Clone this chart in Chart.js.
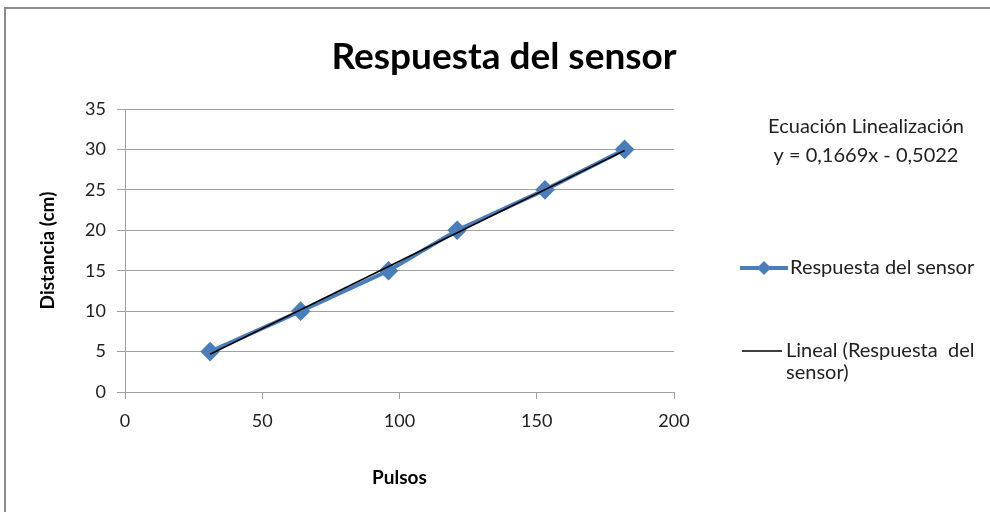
<!DOCTYPE html>
<html>
<head>
<meta charset="utf-8">
<script src="https://cdn.jsdelivr.net/npm/chart.js@4/dist/chart.umd.min.js"></script>
<style>
  html, body { margin: 0; padding: 0; background: #fff; }
  #wrap { width: 990px; height: 512px; }
</style>
</head>
<body>
<div id="wrap"><canvas id="chart" width="990" height="512"></canvas></div>
<script>
// datos
const pulsos = [31, 64, 96, 121, 153, 182];
const distancia = [5, 10, 15, 20, 25, 30];
// extremos de la linea de tendencia (lineal)
const trendX = [31, 182];
const trendY = [4.67, 29.87];
const xTicks = [0, 50, 100, 150, 200];
const yTicks = [0, 5, 10, 15, 20, 25, 30, 35];

const FONT = 'Lato, "Open Sans", sans-serif';
const BLUE = '#4a7ebb';

// marco, titulo, ecuacion y leyenda dibujados a mano
const extras = {
    id: 'extras',
    beforeDraw(chart) {
        const ctx = chart.ctx;
        ctx.save();
        ctx.fillStyle = '#fff';
        ctx.fillRect(0, 0, chart.width, chart.height);
        ctx.strokeStyle = '#8c8c8c';
        ctx.lineWidth = 2;
        ctx.strokeRect(5, 8, 1100, 700);
        ctx.restore();
    },
    afterDraw(chart) {
        const ctx = chart.ctx;
        ctx.save();
        ctx.fillStyle = '#000';
        ctx.textAlign = 'center';
        ctx.textBaseline = 'middle';
        ctx.font = 'bold 37px ' + FONT;
        ctx.fillText('Respuesta del sensor', 504, 57);

        ctx.font = '20px ' + FONT;
        ctx.fillStyle = '#222';
        ctx.fillText('Ecuación Linealización', 866, 127);
        ctx.fillText('y = 0,1669x - 0,5022', 866, 156);

        // leyenda
        const ds0 = chart.data.datasets[0];
        ctx.strokeStyle = ds0.borderColor;
        ctx.lineWidth = ds0.borderWidth;
        ctx.beginPath(); ctx.moveTo(740, 268); ctx.lineTo(788, 268); ctx.stroke();
        ctx.fillStyle = ds0.pointBackgroundColor;
        ctx.beginPath();
        ctx.moveTo(764, 261); ctx.lineTo(771, 268); ctx.lineTo(764, 275); ctx.lineTo(757, 268);
        ctx.closePath(); ctx.fill();

        const ds1 = chart.data.datasets[1];
        ctx.strokeStyle = ds1.borderColor;
        ctx.lineWidth = ds1.borderWidth;
        ctx.beginPath(); ctx.moveTo(742, 351); ctx.lineTo(782, 351); ctx.stroke();

        ctx.fillStyle = '#222';
        ctx.textAlign = 'left';
        ctx.fillText(ds0.label, 790, 268);
        ctx.fillText('Lineal (Respuesta  del', 786, 351);
        ctx.fillText('sensor)', 786, 373);
        ctx.restore();
    }
};

new Chart(document.getElementById('chart'), {
    type: 'scatter',
    data: {
        datasets: [
            {
                label: 'Respuesta del sensor',
                data: pulsos.map((x, i) => ({x, y: distancia[i]})),
                showLine: true,
                borderColor: BLUE,
                borderWidth: 4,
                pointStyle: 'rectRot',
                pointRadius: 7,
                pointBackgroundColor: BLUE,
                pointBorderColor: BLUE,
                tension: 0,
                order: 2
            },
            {
                label: 'Lineal (Respuesta del sensor)',
                data: trendX.map((x, i) => ({x, y: trendY[i]})),
                showLine: true,
                borderColor: '#000',
                borderWidth: 1.5,
                pointRadius: 0,
                order: 1
            }
        ]
    },
    options: {
        responsive: false,
        animation: false,
        layout: {padding: {left: 0, right: 316, top: 109, bottom: 0}},
        scales: {
            x: {
                type: 'linear', min: 0, max: 200,
                afterBuildTicks: (s) => { s.ticks = xTicks.map(v => ({value: v})); },
                afterFit: (s) => { s.height = 120; },
                grid: {drawOnChartArea: false, drawTicks: true, tickLength: 7, color: '#a0a0a0'},
                border: {color: '#a0a0a0'},
                ticks: {color: '#222', font: {family: FONT, size: 18}, padding: 11, maxRotation: 0},
                title: {display: true, text: 'Pulsos', color: '#000',
                    font: {family: FONT, size: 19, weight: 'bold'}, padding: {top: 0, bottom: 23}}
            },
            y: {
                type: 'linear', min: 0, max: 35,
                afterBuildTicks: (s) => { s.ticks = yTicks.map(v => ({value: v})); },
                afterFit: (s) => { s.width = 125; },
                grid: {color: '#a0a0a0', tickLength: 8},
                border: {color: '#a0a0a0'},
                ticks: {color: '#222', font: {family: FONT, size: 18}, padding: 11},
                title: {display: true, text: 'Distancia (cm)', color: '#000',
                    font: {family: FONT, size: 19, weight: 'bold'}, padding: {top: 36, bottom: 0}}
            }
        },
        plugins: {
            legend: {display: false},
            title: {display: false},
            tooltip: {enabled: false}
        }
    },
    plugins: [extras]
});
</script>
</body>
</html>
